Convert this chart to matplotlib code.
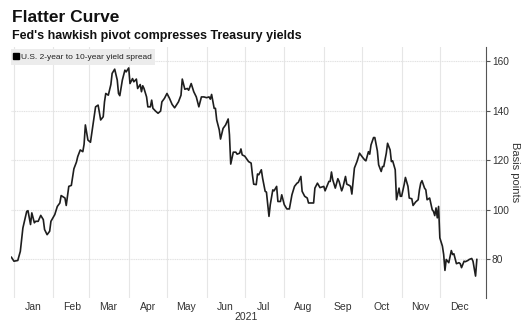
import pandas as pd
import matplotlib
matplotlib.use('Agg')
import matplotlib.pyplot as plt
from matplotlib.lines import Line2D
from matplotlib import transforms

plt.rcParams['font.family'] = ['Liberation Sans', 'DejaVu Sans']

# days after 1 Jan 2021 for each reading, and the 2s10s spread (bp)
days = [-2, 0, 3, 5, 7, 10, 11, 13, 14, 16,
        17, 19, 21, 23, 24, 26, 28, 29, 32, 34,
        36, 37, 40, 41, 43, 45, 47, 49, 50, 52,
        54, 55, 56, 58, 60, 62, 64, 66, 68, 70,
        71, 72, 74, 76, 77, 79, 81, 82, 83, 85,
        87, 88, 90, 91, 93, 94, 96, 97, 99, 100,
        101, 102, 104, 105, 107, 108, 109, 111, 113, 115,
        116, 118, 120, 122, 124, 126, 129, 131, 132, 134,
        136, 137, 139, 141, 143, 145, 147, 149, 151, 153,
        154, 155, 157, 158, 159, 161, 162, 164, 165, 166,
        168, 169, 170, 172, 174, 175, 177, 178, 179, 181,
        184, 186, 187, 188, 190, 191, 192, 194, 195, 197,
        198, 200, 201, 203, 204, 206, 207, 209, 210, 212,
        214, 216, 218, 220, 222, 223, 225, 226, 228, 230,
        231, 233, 235, 236, 238, 240, 243, 244, 247, 248,
        249, 250, 252, 254, 255, 257, 258, 260, 261, 263,
        264, 265, 267, 269, 271, 273, 275, 276, 278, 279,
        280, 282, 283, 285, 286, 288, 289, 290, 292, 293,
        295, 296, 297, 299, 300, 302, 303, 304, 306, 307,
        309, 310, 312, 313, 315, 317, 318, 319, 320, 322,
        323, 324, 326, 328, 329, 330, 331, 332, 333, 334,
        336, 337, 338, 339, 341, 343, 344, 345, 347, 349,
        350, 351, 353, 354, 356, 357, 359, 360, 362, 363]

spread = [80.9, 79.3, 79.6, 83.3, 92.7, 99.4, 99.7, 94.1, 98.8, 94.8,
          95.4, 95.4, 97.8, 96.1, 92.1, 90.0, 91.4, 95.4, 98.1, 101.4,
          102.8, 105.8, 104.8, 101.8, 109.5, 109.9, 116.6, 119.3, 121.5, 124.2,
          123.5, 126.5, 134.3, 128.2, 127.3, 134.3, 141.6, 142.3, 136.3, 137.6,
          143.6, 147.0, 146.3, 150.6, 155.1, 156.8, 152.4, 147.0, 146.1, 152.4,
          156.4, 155.7, 157.3, 151.0, 153.0, 151.7, 152.8, 149.0, 150.6, 147.7,
          150.1, 149.0, 145.6, 141.6, 141.6, 144.3, 141.0, 139.9, 139.0, 139.9,
          143.6, 145.0, 147.0, 145.0, 142.6, 141.2, 143.6, 146.3, 152.8, 148.7,
          149.0, 148.3, 151.0, 147.7, 145.6, 141.6, 145.6, 145.6, 145.3, 145.6,
          144.7, 146.6, 141.0, 141.0, 136.3, 132.3, 128.6, 132.9, 133.6, 134.3,
          136.7, 130.3, 118.5, 123.3, 123.3, 122.5, 122.9, 124.6, 122.2, 121.7,
          119.5, 118.9, 114.2, 110.4, 110.2, 114.5, 114.2, 116.2, 112.8, 107.5,
          107.2, 97.4, 102.1, 108.1, 107.7, 109.5, 103.4, 103.4, 106.1, 102.1,
          100.4, 100.4, 106.1, 109.5, 110.8, 111.1, 113.5, 107.5, 105.5, 104.8,
          102.8, 102.8, 102.8, 108.8, 110.8, 109.0, 109.5, 107.7, 111.5, 111.5,
          115.3, 112.2, 108.8, 112.6, 111.5, 107.7, 109.1, 113.5, 110.4, 109.9,
          109.5, 106.4, 116.9, 119.5, 122.9, 121.5, 120.2, 119.8, 123.5, 122.5,
          126.2, 129.2, 129.2, 123.8, 118.2, 115.5, 117.5, 117.5, 122.9, 126.9,
          124.2, 119.5, 119.8, 116.2, 104.1, 108.8, 105.5, 105.5, 110.2, 113.1,
          109.5, 104.8, 104.5, 101.8, 103.2, 104.1, 108.1, 110.8, 111.8, 108.8,
          108.1, 104.1, 104.8, 100.1, 99.4, 97.7, 100.8, 96.8, 101.4, 88.7,
          85.4, 82.0, 75.6, 80.0, 78.7, 83.6, 82.0, 82.3, 78.3, 78.7,
          78.3, 76.7, 79.3, 79.1, 79.6, 80.0, 80.4, 79.3, 73.3, 80.0]

month_labels = ['Jan', 'Feb', 'Mar', 'Apr', 'May', 'Jun',
                'Jul', 'Aug', 'Sep', 'Oct', 'Nov', 'Dec']
y_ticks = [80, 100, 120, 140, 160]

assert len(days) == len(spread)
dates = pd.Timestamp('2021-01-01') + pd.to_timedelta(days, unit='D')

fig = plt.figure(figsize=(5.23, 3.21), dpi=100)
ax = fig.add_axes([0.021, 0.072, 0.909, 0.782])

ax.plot(dates, spread, color='#1e1e1e', lw=1.2)

ax.set_xlim(pd.Timestamp('2020-12-29 16:00'), pd.Timestamp('2022-01-06 12:00'))
ax.set_ylim(64.5, 165.8)

# month boundaries as grid, labels in the middle of each month
month_starts = pd.date_range('2021-01-01', periods=12, freq='MS')
ax.set_xticks(month_starts)
ax.set_xticklabels([])
ax.set_xticks(month_starts + pd.Timedelta(days=15), minor=True)
ax.set_xticklabels(month_labels, minor=True)
ax.tick_params(axis='x', which='both', length=0, labelsize=7.5, colors='#333333', pad=3)
ax.grid(axis='x', which='major', color='#e6e6e6', lw=0.8)

ax.yaxis.tick_right()
ax.set_yticks(y_ticks)
ax.tick_params(axis='y', length=3, width=0.8, colors='#555555', labelcolor='#333333',
               labelsize=7.3, pad=1)
ax.grid(axis='y', color='#e2e2e2', lw=0.8, ls=(0, (1, 0.6)))

for side in ['left', 'top', 'bottom']:
    ax.spines[side].set_visible(False)
ax.spines['right'].set_color('#555555')
ax.spines['right'].set_linewidth(0.8)

# axis title placed by hand so it sits in the narrow strip at the right edge
fig.text(0.984, 0.072 + 0.782 / 2, 'Basis points', rotation=270, ha='center', va='center',
         fontsize=8, color='#333333')

trans = transforms.blended_transform_factory(ax.transData, ax.transAxes)
ax.text(pd.Timestamp('2021-07-02'), -0.058, '2021', transform=trans, ha='center', va='top',
        fontsize=7.5, color='#333333')

handle = Line2D([], [], marker='s', color='black', ls='none', markersize=4)
leg = ax.legend([handle], ['U.S. 2-year to 10-year yield spread'], loc='upper left',
                bbox_to_anchor=(-0.001, 0.99), frameon=True, fancybox=False,
                handlelength=0.5, handletextpad=0.25, borderpad=0.45, borderaxespad=0,
                fontsize=6.0, labelcolor='#222222')
leg.get_frame().set_facecolor('#ececec')
leg.get_frame().set_edgecolor('none')
leg.get_frame().set_alpha(1)

fig.text(0.022, 0.968, 'Flatter Curve', fontsize=12.5, fontweight='bold', va='top', color='#111111')
fig.text(0.022, 0.905, "Fed's hawkish pivot compresses Treasury yields", fontsize=9,
         fontweight='bold', va='top', color='#111111')

fig.savefig('out.png', dpi=100)
